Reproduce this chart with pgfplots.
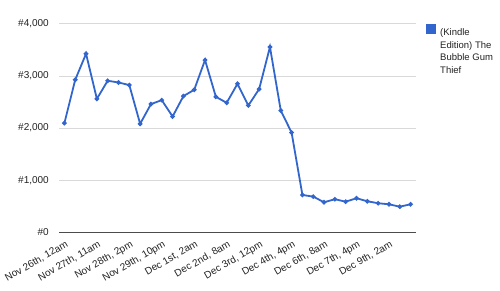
\documentclass[border=0pt]{standalone}
\usepackage{pgfplots}
\pgfplotsset{compat=1.18}
\usepackage{fontspec}
\setmainfont{Liberation Sans}
\definecolor{gline}{HTML}{3366CC}
\definecolor{gridc}{HTML}{D9D9D9}
\definecolor{txt}{HTML}{222222}
\begin{document}
\begin{tikzpicture}
\path (0pt,0pt) rectangle (500pt,291pt);
\begin{axis}[
  overlay,
  at={(59pt,58.7pt)}, anchor=south west,
  scale only axis, width=357pt, height=208.3pt,
  xmin=-0.5, xmax=32.5, ymin=0, ymax=4000,
  axis line style={draw=none},
  major tick length=0pt,
  ytick={1000,2000,3000,4000},
  yticklabels={\#1{,}000,\#2{,}000,\#3{,}000,\#4{,}000},
  extra y ticks={0}, extra y tick labels={\#0},
  extra y tick style={grid style={color=black!70, line width=1pt}},
  ymajorgrids, grid style={color=gridc, line width=1pt},
  xtick={0,3,...,30},
  xticklabels={{Nov 26th, 12am},{Nov 27th, 11am},{Nov 28th, 2pm},{Nov 29th, 10pm},{Dec 1st, 2am},{Dec 2nd, 8am},{Dec 3rd, 12pm},{Dec 4th, 4pm},{Dec 6th, 8am},{Dec 7th, 4pm},{Dec 9th, 2am}},
  x tick label style={xshift=1pt, yshift=-6pt, rotate=30, anchor=north east, font=\fontsize{10}{11}\selectfont, text=txt, inner sep=1pt},
  y tick label style={font=\fontsize{10}{12}\selectfont, text=txt, inner sep=0pt, xshift=-10pt},
  /pgf/number format/assume math mode=true,
  legend style={draw=none, at={(rel axis cs:1,1)}, anchor=north west, xshift=10pt, inner sep=0pt,
    nodes={font=\fontsize{9.5}{12.4}\selectfont, text=txt, align=left, anchor=north west, inner sep=0pt}},
  legend cell align=left,
  legend image code/.code={\path[draw=none, fill=none] (0pt,0pt) -- (14pt,0pt); \fill[gline, draw=none] (0pt,-4.7pt) rectangle (9.5pt,4.7pt);},
  clip=false,
]
\addplot[color=gline, line width=1.8pt, mark=*, mark size=1.3pt] coordinates {
(0,2096) (1,2929) (2,3429) (3,2563) (4,2910) (5,2877) (6,2827) (7,2083)
(8,2462) (9,2538) (10,2223) (11,2615) (12,2737) (13,3308) (14,2602) (15,2487)
(16,2852) (17,2435) (18,2750) (19,3558) (20,2338) (21,1915) (22,717) (23,685)
(24,577) (25,635) (26,588) (27,654) (28,596) (29,558) (30,538) (31,492) (32,538)
};
\addlegendentry{(Kindle\\Edition) The\\Bubble Gum\\Thief}
\end{axis}
\end{tikzpicture}
\end{document}
